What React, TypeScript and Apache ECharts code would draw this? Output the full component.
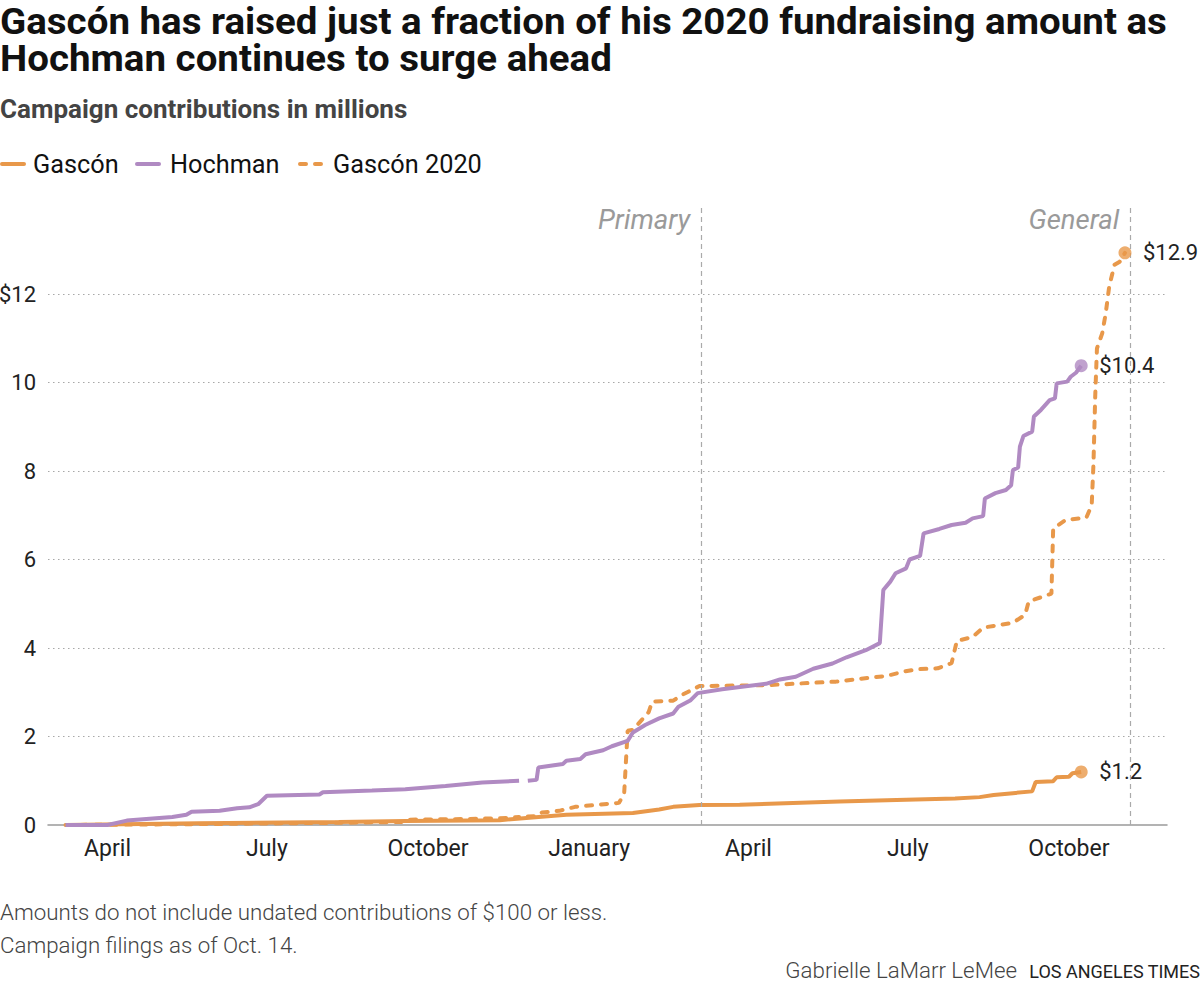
import React, { useEffect, useRef } from 'react';
import * as echarts from 'echarts';

// ---- Data (dates on the 2024 campaign calendar; Gascón 2020 aligned to the same election calendar) ----
const hochman: [string, number | null][] = [
  ['2023-03-08', 0], ['2023-04-01', 0], ['2023-04-12', 0.1], ['2023-05-08', 0.18], ['2023-05-16', 0.23],
  ['2023-05-19', 0.3], ['2023-06-04', 0.32], ['2023-06-14', 0.38], ['2023-06-21', 0.4], ['2023-06-26', 0.47],
  ['2023-07-01', 0.66], ['2023-07-31', 0.69], ['2023-08-02', 0.74], ['2023-08-30', 0.78], ['2023-09-18', 0.81],
  ['2023-10-11', 0.88], ['2023-11-01', 0.96], ['2023-11-22', 1.0], ['2023-11-24', null], ['2023-11-27', 1.0],
  ['2023-12-02', 1.02], ['2023-12-03', 1.3], ['2023-12-17', 1.38], ['2023-12-19', 1.45], ['2023-12-27', 1.49],
  ['2023-12-30', 1.6], ['2024-01-09', 1.69], ['2024-01-14', 1.78], ['2024-01-23', 1.9], ['2024-01-26', 2.09],
  ['2024-02-02', 2.26], ['2024-02-10', 2.41], ['2024-02-18', 2.52], ['2024-02-21', 2.67], ['2024-02-28', 2.82],
  ['2024-03-03', 2.98], ['2024-03-17', 3.07], ['2024-04-11', 3.19], ['2024-04-19', 3.29], ['2024-04-28', 3.35],
  ['2024-05-08', 3.53], ['2024-05-19', 3.65], ['2024-05-27', 3.79], ['2024-06-07', 3.95], ['2024-06-15', 4.11],
  ['2024-06-17', 5.31], ['2024-06-21', 5.5], ['2024-06-24', 5.69], ['2024-06-30', 5.8], ['2024-07-02', 6.0],
  ['2024-07-08', 6.08], ['2024-07-10', 6.59], ['2024-07-19', 6.69], ['2024-07-26', 6.78], ['2024-08-03', 6.83],
  ['2024-08-07', 6.93], ['2024-08-13', 6.98], ['2024-08-14', 7.38], ['2024-08-20', 7.5], ['2024-08-26', 7.57],
  ['2024-08-29', 7.68], ['2024-08-30', 8.02], ['2024-09-02', 8.08], ['2024-09-03', 8.55], ['2024-09-05', 8.79],
  ['2024-09-10', 8.89], ['2024-09-11', 9.23], ['2024-09-15', 9.38], ['2024-09-20', 9.6], ['2024-09-23', 9.64],
  ['2024-09-24', 9.98], ['2024-09-30', 10.02], ['2024-10-02', 10.13], ['2024-10-05', 10.22], ['2024-10-08', 10.38],
];

const gascon: [string, number | null][] = [
  ['2023-03-08', 0], ['2023-05-23', 0.04], ['2023-08-11', 0.07], ['2023-09-18', 0.09], ['2023-11-11', 0.11],
  ['2023-12-19', 0.23], ['2024-01-26', 0.27], ['2024-02-10', 0.35], ['2024-02-18', 0.41], ['2024-03-04', 0.45],
  ['2024-03-27', 0.46], ['2024-05-23', 0.53], ['2024-06-30', 0.57], ['2024-07-28', 0.6], ['2024-08-11', 0.63],
  ['2024-08-19', 0.68], ['2024-08-30', 0.72], ['2024-09-10', 0.76], ['2024-09-12', 0.97], ['2024-09-22', 0.99],
  ['2024-09-24', 1.08], ['2024-10-01', 1.09], ['2024-10-03', 1.17], ['2024-10-08', 1.2],
];

const gascon2020: [string, number | null][] = [
  ['2023-03-08', 0], ['2023-05-23', 0.02], ['2023-08-11', 0.05], ['2023-09-17', 0.07], ['2023-09-20', 0.12],
  ['2023-10-13', 0.13], ['2023-11-11', 0.15], ['2023-11-22', 0.18], ['2023-11-24', null], ['2023-11-27', 0.19],
  ['2023-12-02', 0.2], ['2023-12-05', 0.28], ['2023-12-15', 0.32], ['2023-12-24', 0.41], ['2024-01-18', 0.5],
  ['2024-01-21', 0.7], ['2024-01-23', 2.13], ['2024-01-26', 2.15], ['2024-02-04', 2.55], ['2024-02-06', 2.79],
  ['2024-02-18', 2.81], ['2024-02-24', 2.96], ['2024-03-04', 3.14], ['2024-04-11', 3.16], ['2024-05-21', 3.24],
  ['2024-06-19', 3.37], ['2024-06-29', 3.47], ['2024-07-06', 3.52], ['2024-07-18', 3.54], ['2024-07-26', 3.66],
  ['2024-07-29', 4.16], ['2024-08-07', 4.25], ['2024-08-13', 4.46], ['2024-08-30', 4.57], ['2024-09-06', 4.75],
  ['2024-09-08', 5.05], ['2024-09-21', 5.23], ['2024-09-22', 6.7], ['2024-09-29', 6.89], ['2024-10-11', 6.95],
  ['2024-10-14', 7.23], ['2024-10-15', 8.15], ['2024-10-16', 9.68], ['2024-10-17', 10.77], ['2024-10-20', 11.11],
  ['2024-10-22', 11.56], ['2024-10-24', 12.17], ['2024-10-27', 12.66], ['2024-10-30', 12.73], ['2024-11-02', 12.93],
];

const monthTicks = ['2023-04-01', '2023-07-01', '2023-10-01', '2024-01-01', '2024-04-01', '2024-07-01', '2024-10-01'];
const monthLabels = ['April', 'July', 'October', 'January', 'April', 'July', 'October'];
const eventDates = ['2024-03-05', '2024-11-05'];
const eventNames = ['Primary', 'General'];
const xRange = ['2023-02-26', '2024-11-26'];
const yMax = 14;
const yStep = 2;

const ORANGE = '#E8984A';
const PURPLE = '#B08AC2';
const FONT = 'Roboto, sans-serif';

const toTime = (s: string) => {
  const [y, m, d] = s.split('-').map(Number);
  return Date.UTC(y, m - 1, d);
};
const toSeries = (arr: [string, number | null][]) => arr.map(([d, v]) => [toTime(d), v]);

export default function App() {
  const ref = useRef<HTMLDivElement>(null);
  useEffect(() => {
    document.body.style.margin = '0';
    const chart = echarts.init(ref.current!, null, { renderer: 'svg' });

    const endLabel = {
      show: true,
      distance: 18,
      color: '#222',
      fontSize: 22,
      fontFamily: FONT,
      formatter: (p: any) => '$' + Number(p.value[1]).toFixed(1),
    };
    const last = (arr: [string, number | null][]) => arr[arr.length - 1];
    const tickTimes = monthTicks.map(toTime);

    const txt = (text: string, x: number, y: number, size: number, extra: any = {}, scaleX = 1) => ({
      type: 'text',
      x,
      y,
      scaleX,
      silent: true,
      style: {
        text,
        fontSize: size,
        fontFamily: FONT,
        fill: '#111',
        align: 'left',
        verticalAlign: 'middle',
        ...extra,
      },
    });

    chart.setOption({
      animation: false,
      grid: { left: 48, right: 33, top: 205.5, bottom: 161, containLabel: false, outerBoundsMode: 'none' },
      xAxis: {
        type: 'value',
        min: toTime(xRange[0]),
        max: toTime(xRange[1]),
        axisLine: { show: true, lineStyle: { color: '#9a9a9a', width: 1.5 } },
        axisTick: { show: false },
        splitLine: { show: false },
        axisLabel: {
          customValues: tickTimes,
          formatter: (v: number) => {
            const i = tickTimes.indexOf(v);
            return i >= 0 ? monthLabels[i] : '';
          },
          color: '#222',
          fontSize: 23,
          fontFamily: FONT,
          margin: 12,
          showMinLabel: true,
          showMaxLabel: true,
        },
      },
      yAxis: {
        type: 'value',
        min: 0,
        max: yMax,
        interval: yStep,
        axisLine: { show: false },
        axisTick: { show: false },
        axisLabel: {
          color: '#222',
          fontSize: 22,
          fontFamily: FONT,
          margin: 12,
          showMaxLabel: false,
          formatter: (v: number) => (v === 12 ? '$12' : v === yMax ? '' : String(v)),
        },
        splitLine: {
          show: true,
          showMinLine: false,
          showMaxLine: false,
          lineStyle: { color: '#a8a8a8', width: 1.2, type: [1.5, 3.5] },
        },
      },
      series: [
        {
          name: 'Gascón 2020',
          type: 'line',
          data: toSeries(gascon2020),
          showSymbol: false,
          connectNulls: false,
          lineStyle: { color: ORANGE, width: 4, type: [6, 9], cap: 'round' },
          itemStyle: { color: ORANGE },
          endLabel,
          z: 2,
          markLine: {
            silent: true,
            symbol: ['none', 'none'],
            label: { show: false },
            lineStyle: { color: '#aaaaaa', width: 1.2, type: [5, 4] },
            data: eventDates.map((d) => ({ xAxis: toTime(d) })),
          },
        },
        {
          name: 'Gascón',
          type: 'line',
          data: toSeries(gascon),
          showSymbol: false,
          lineStyle: { color: ORANGE, width: 4 },
          itemStyle: { color: ORANGE },
          endLabel,
          z: 3,
        },
        {
          name: 'Hochman',
          type: 'line',
          data: toSeries(hochman),
          showSymbol: false,
          connectNulls: false,
          lineStyle: { color: PURPLE, width: 4 },
          itemStyle: { color: PURPLE },
          endLabel,
          z: 4,
        },
        {
          name: 'ends',
          type: 'scatter',
          symbolSize: 13,
          z: 5,
          data: [
            { value: [toTime(last(gascon2020)[0]), last(gascon2020)[1]], itemStyle: { color: ORANGE } },
            { value: [toTime(last(gascon)[0]), last(gascon)[1]], itemStyle: { color: ORANGE } },
            { value: [toTime(last(hochman)[0]), last(hochman)[1]], itemStyle: { color: PURPLE } },
          ],
        },
      ],
    });

    const eventLabels = eventDates.map((d, i) => {
      const [px, py] = chart.convertToPixel({ xAxisIndex: 0, yAxisIndex: 0 }, [toTime(d), yMax]) as number[];
      return txt(eventNames[i], px - 11, py + 14, 27.5, { align: 'right', fill: '#9a9a9a', fontStyle: 'italic' });
    });

    chart.setOption({
      graphic: [
        txt('Gascón has raised just a fraction of his 2020 fundraising amount as', 0, 21.5, 36.5, { fontWeight: 'bold' }, 1.055),
        txt('Hochman continues to surge ahead', 0, 58.25, 36.5, { fontWeight: 'bold' }, 1.055),
        txt('Campaign contributions in millions', 0, 109, 26, { fontWeight: 'bold', fill: '#444' }),
        { type: 'line', silent: true, shape: { x1: 2, y1: 164, x2: 24, y2: 164 }, style: { stroke: ORANGE, lineWidth: 4, lineCap: 'round' } },
        txt('Gascón', 33, 164, 25.3),
        { type: 'line', silent: true, shape: { x1: 137, y1: 164, x2: 159, y2: 164 }, style: { stroke: PURPLE, lineWidth: 4, lineCap: 'round' } },
        txt('Hochman', 170, 164, 25.3),
        { type: 'line', silent: true, shape: { x1: 300, y1: 164, x2: 321, y2: 164 }, style: { stroke: ORANGE, lineWidth: 4, lineCap: 'round', lineDash: [6, 9] } },
        txt('Gascón 2020', 333, 164, 25.3),
        ...eventLabels,
        txt('Amounts do not include undated contributions of $100 or less.', 0, 912, 22.3, { fill: '#444', fontWeight: 300 }),
        txt('Campaign filings as of Oct. 14.', 0, 945, 22.3, { fill: '#444', fontWeight: 300 }),
        txt('Gabrielle LaMarr LeMee', 1017, 970, 22.3, { fill: '#444', fontWeight: 300, align: 'right' }),
        txt('LOS ANGELES TIMES', 1200, 971, 18, { fill: '#222', align: 'right' }),
      ],
    });

    return () => chart.dispose();
  }, []);
  return <div ref={ref} style={{ width: 1200, height: 986 }} />;
}
